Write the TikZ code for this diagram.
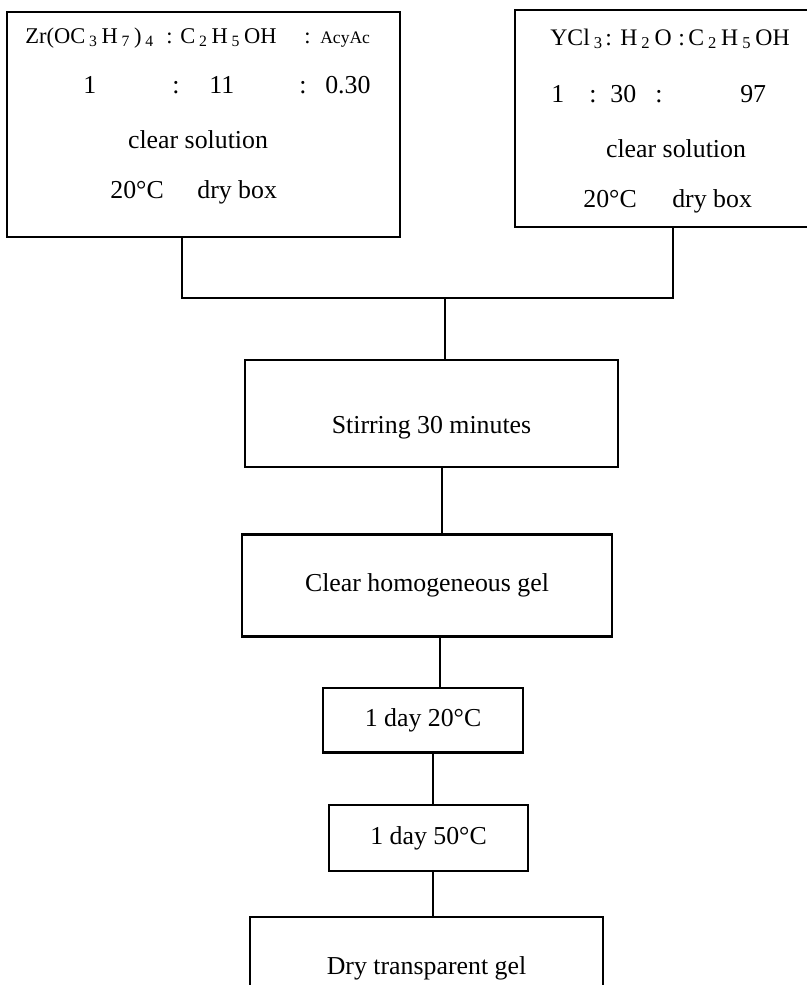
\documentclass[tikz,border=0pt]{standalone}
\usepackage{fontspec}
\setmainfont{Liberation Serif}
\usetikzlibrary{positioning}
\newdimen\px \px=0.56906pt
\newcommand{\cellbox}[2]{\makebox[#1\px][l]{#2}}
\newcommand{\chemsub}[1]{\,\textsubscript{#1}\,}

\begin{document}
\begin{tikzpicture}[x=0.02cm, y=-0.02cm,
  stagebox/.style 2 args={draw, rectangle, line width=1.3pt, inner sep=0pt, minimum width=#1\px, minimum height=#2\px, font=\fontsize{14.7}{17}\selectfont},
  link/.style={line width=1.3pt},
  txt/.style={inner sep=0pt, anchor=base west, font=\fontsize{14.7}{17}\selectfont}]

\path[use as bounding box, clip] (0,0) rectangle (807,985);

% Starting solutions

\node [stagebox={393}{225}] (zr) at (203.5,124.5) {};
\node [txt, font=\fontsize{12.8}{15}\selectfont] (zrformula) at (25,43)
{\cellbox{141}{Zr(OC\chemsub{3}H\chemsub{7})\chemsub{4}}\cellbox{14}{:}\cellbox{124}{C\chemsub{2}H\chemsub{5}OH}\cellbox{16}{:}{\fontsize{10}{12}\selectfont AcyAc}};
\node [txt] (zrratio) at (83,93)
{\cellbox{89}{1}\cellbox{37}{:}\cellbox{90}{11}\cellbox{26}{:}0.30};
\node [txt, anchor=base] (zrstate) at (198,148) {clear solution};
\node [txt] (zrcond) at (110,198) {\cellbox{87}{20°C}dry box};

\node [stagebox={320}{217}] (ycl) at (675,118.5) {};
\node [txt, font=\fontsize{13.5}{16}\selectfont] (yclformula) at (550,45)
{\cellbox{55}{YCl\chemsub{3}}\cellbox{15}{:}\cellbox{58}{H\chemsub{2}O}\cellbox{10}{:}C\chemsub{2}H\chemsub{5}OH};
\node [txt] (yclratio) at (551,102)
{\cellbox{38}{1}\cellbox{21}{:}\cellbox{45}{30}\cellbox{85}{:}97};
\node [txt, anchor=base] (yclstate) at (676,157) {clear solution};
\node [txt] (yclcond) at (583,207) {\cellbox{89}{20°C}dry box};

% Processing steps

\coordinate (join) at (445,298);

\node [stagebox={373}{107}, below=61\px of join, xshift=-13.5\px, text height=45\px, text depth=6\px] (stir) {Stirring 30 minutes};
\node [stagebox={370}{102}, below=65\px of stir, xshift=-4.5\px] (gel) {Clear homogeneous gel};
\node [stagebox={200}{65}, below=49\px of gel, xshift=-4\px] (day20) {1 day 20°C};
\node [stagebox={199}{66}, below=50\px of day20, xshift=5.5\px] (day50) {1 day 50°C};
\node [stagebox={353}{103}, below=44\px of day50, xshift=-2\px] (dry) {Dry transparent gel};

% Connections

\draw[link] ([xshift=-21.5\px]zr.south) |- (join) -| ([xshift=-2\px]ycl.south);
\draw[link] (join) -- (join |- stir.north);
\draw[link] ([xshift=10.5\px]stir.south) -- ([xshift=15\px]gel.north);
\draw[link] ([xshift=13\px]gel.south) -- ([xshift=17\px]day20.north);
\draw[link] ([xshift=10\px]day20.south) -- ([xshift=4.5\px]day50.north);
\draw[link] ([xshift=4.5\px]day50.south) -- ([xshift=6.5\px]dry.north);

\end{tikzpicture}
\end{document}
